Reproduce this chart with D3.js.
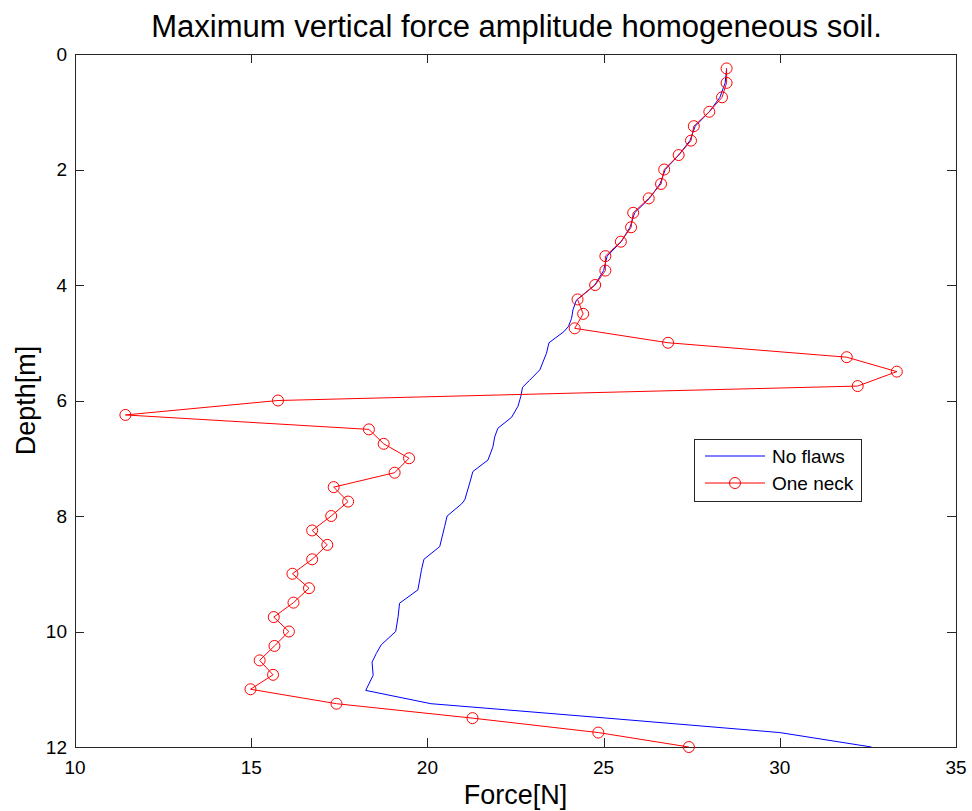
<!DOCTYPE html>
<html><head><meta charset="utf-8">
<script src="https://cdn.jsdelivr.net/npm/d3@7"></script>
<style>
html,body{margin:0;padding:0;background:#fff;}
text{font-family:"Liberation Sans",Arial,Helvetica,sans-serif;fill:#000;}
</style></head>
<body><svg id="chart" width="972" height="811"></svg>
<script>
const titleText = "Maximum vertical force amplitude homogeneous soil.";
const xLabel = "Force[N]";
const yLabel = "Depth[m]";
const xTicks = [10, 15, 20, 25, 30, 35];
const yTicks = [0, 2, 4, 6, 8, 10, 12];
const seriesNames = ["No flaws", "One neck"];

// One neck (red, circles)
const neckDepth = [0.25,0.5,0.75,1.0,1.25,1.5,1.75,2.0,2.25,2.5,2.75,3.0,3.25,3.5,3.75,4.0,4.25,4.5,4.75,5.0,
  5.25,5.5,5.75,6.0,6.25,6.5,6.75,7.0,7.25,7.5,7.75,8.0,8.25,8.5,8.75,9.0,9.25,9.5,9.75,10.0,
  10.25,10.5,10.75,11.0,11.25,11.5,11.75,12.0];
const neckForce = [28.49,28.49,28.36,28.0,27.56,27.48,27.13,26.72,26.63,26.28,25.84,25.78,25.49,25.05,25.05,24.76,24.26,24.42,24.18,26.83,
  31.9,33.32,32.21,15.76,11.43,18.34,18.76,19.48,19.07,17.34,17.75,17.27,16.73,17.16,16.73,16.17,16.64,16.2,15.64,16.07,
  15.66,15.24,15.62,14.98,17.42,21.28,24.85,27.42];

// No flaws (blue line)
const flawDepth = [0.25,0.5,0.75,1.0,1.25,1.5,1.75,2.0,2.25,2.5,2.75,3.0,3.25,3.5,3.75,4.0,4.26,4.43,4.58,4.72,4.81,5.0,5.18,5.47,5.65,5.77,5.93,6.1,6.29,6.48,6.63,6.8,7.03,7.23,7.43,7.72,7.79,8.0,8.18,8.53,8.75,8.94,9.28,9.51,9.74,10.0,10.23,10.38,10.53,10.76,11.02,11.25,11.5,11.75,12.0];
const flawForce = [28.49,28.45,28.3,28.0,27.6,27.45,27.13,26.75,26.6,26.3,25.88,25.75,25.5,25.1,25.0,24.75,24.23,24.13,24.09,24.0,23.87,23.45,23.38,23.19,22.9,22.7,22.65,22.57,22.39,22.0,21.91,21.86,21.72,21.29,21.2,21.06,20.97,20.56,20.49,20.35,19.9,19.83,19.73,19.21,19.17,19.1,18.69,18.55,18.43,18.46,18.25,20.1,25.1,30.0,32.6];

const svg = d3.select("#chart");
const L = 75, R = 956, T = 54, B = 747;
const x = d3.scaleLinear().domain([10, 35]).range([L, R]);
const y = d3.scaleLinear().domain([0, 12]).range([T, B]);
const axisColor = "#262626";
const tickLen = 9;

// ticks (inward, all four sides)
const g = svg.append("g");
xTicks.forEach(t => {
  const px = Math.round(x(t)) + 0.5;
  g.append("line").attr("x1", px).attr("x2", px).attr("y1", B).attr("y2", B - tickLen).attr("stroke", axisColor);
  g.append("line").attr("x1", px).attr("x2", px).attr("y1", T).attr("y2", T + tickLen).attr("stroke", axisColor);
  g.append("text").attr("x", x(t)).attr("y", B + 20).attr("text-anchor", "middle")
    .attr("dominant-baseline", "central").attr("font-size", 19).text(t);
});
yTicks.forEach(t => {
  const py = Math.round(y(t)) + 0.5;
  g.append("line").attr("x1", L).attr("x2", L + tickLen).attr("y1", py).attr("y2", py).attr("stroke", axisColor);
  g.append("line").attr("x1", R).attr("x2", R - tickLen).attr("y1", py).attr("y2", py).attr("stroke", axisColor);
  g.append("text").attr("x", L - 8).attr("y", y(t)).attr("text-anchor", "end")
    .attr("dominant-baseline", "central").attr("font-size", 19).text(t);
});
svg.append("rect").attr("x", L + 0.5).attr("y", T + 0.5).attr("width", R - L).attr("height", B - T)
  .attr("fill", "none").attr("stroke", axisColor).attr("stroke-width", 1);

// data
const blue = flawDepth.map((d, i) => [flawForce[i], d]);
const red = neckDepth.map((d, i) => [neckForce[i], d]);
const line = d3.line().x(d => x(d[0])).y(d => y(d[1]));
svg.append("path").attr("d", line(blue)).attr("fill", "none").attr("stroke", "#0000ff").attr("stroke-width", 1);
svg.append("path").attr("d", line(red)).attr("fill", "none").attr("stroke", "#ff0000").attr("stroke-width", 1);
svg.append("g").selectAll("circle").data(red).join("circle")
  .attr("cx", d => x(d[0])).attr("cy", d => y(d[1])).attr("r", 5.5)
  .attr("fill", "none").attr("stroke", "#ff0000").attr("stroke-width", 1);

// title and labels
svg.append("text").attr("x", (L + R) / 2 + 1).attr("y", 26).attr("text-anchor", "middle")
  .attr("dominant-baseline", "central").attr("font-size", 31).text(titleText);
svg.append("text").attr("x", (L + R) / 2).attr("y", 795).attr("text-anchor", "middle")
  .attr("dominant-baseline", "central").attr("font-size", 27).text(xLabel);
svg.append("text").attr("transform", `translate(26,${(T + B) / 2}) rotate(-90)`).attr("text-anchor", "middle")
  .attr("dominant-baseline", "central").attr("font-size", 27).text(yLabel);

// legend
const lg = svg.append("g");
lg.append("rect").attr("x", 694.5).attr("y", 439.5).attr("width", 167).attr("height", 62)
  .attr("fill", "#fff").attr("stroke", axisColor);
lg.append("line").attr("x1", 705).attr("x2", 765).attr("y1", 456).attr("y2", 456).attr("stroke", "#0000ff");
lg.append("line").attr("x1", 705).attr("x2", 765).attr("y1", 483).attr("y2", 483).attr("stroke", "#ff0000");
lg.append("circle").attr("cx", 735).attr("cy", 483).attr("r", 5.5).attr("fill", "none").attr("stroke", "#ff0000");
lg.append("text").attr("x", 772).attr("y", 456).attr("dominant-baseline", "central").attr("font-size", 19).text(seriesNames[0]);
lg.append("text").attr("x", 772).attr("y", 483).attr("dominant-baseline", "central").attr("font-size", 19).text(seriesNames[1]);
</script></body></html>
